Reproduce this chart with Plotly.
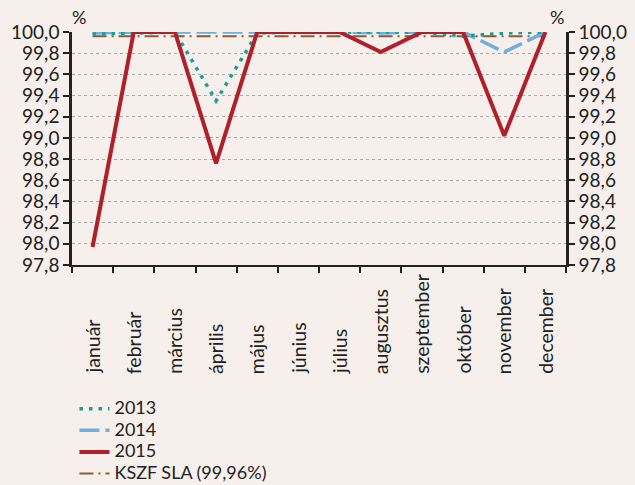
import plotly.graph_objects as go

months = ["január", "február", "március", "április", "május", "június",
          "július", "augusztus", "szeptember", "október", "november", "december"]
y2013 = [99.98, 99.99, 100.0, 99.35, 99.99, 100.0, 100.0, 100.0, 100.0, 99.96, 99.99, 100.0]
y2014 = [99.99, 100.0, 100.0, 100.0, 100.0, 100.0, 100.0, 99.99, 100.0, 100.0, 99.81, 100.0]
y2015 = [97.97, 100.0, 100.0, 98.76, 100.0, 100.0, 100.0, 99.81, 100.0, 100.0, 99.02, 100.0]
sla = [99.96] * 12
names = ["2013", "2014", "2015", "KSZF SLA (99,96%)"]

BG = "#F6EFEC"
FAM = "Lato, Open Sans, sans-serif"


def lg(t):
    return '<span style="font-size:18px">' + t + '</span>'


fig = go.Figure()
fig.add_trace(go.Scatter(x=months, y=sla, name=lg(names[3]), mode="lines", legendrank=4,
                         line=dict(color="#8C5A3C", width=1.8, dash="14px,5px,2px,5px")))
fig.add_trace(go.Scatter(x=months, y=y2014, name=lg(names[1]), mode="lines", legendrank=2,
                         line=dict(color="#70AEDC", width=3.5, dash="20px,6px")))
fig.add_trace(go.Scatter(x=months, y=y2013, name=lg(names[0]), mode="lines", legendrank=1,
                         line=dict(color="#17A190", width=3.5, dash="3.5px,6px")))
fig.add_trace(go.Scatter(x=months, y=y2015, name=lg(names[2]), mode="lines", legendrank=3,
                         line=dict(color="#B0202A", width=4)))
fig.add_trace(go.Scatter(x=months, y=y2015, yaxis="y2", mode="lines",
                         line=dict(width=0), showlegend=False, hoverinfo="skip"))

# month labels, bottom-aligned, read upward
annotations = [
    dict(text=m, x=m, xref="x", y=-0.476, yref="paper", textangle=-90,
         xanchor="center", yanchor="bottom", showarrow=False,
         font=dict(family=FAM, size=19.5, color="#222222"))
    for m in months
]
annotations += [
    dict(text="%", x=0, y=1.0, xref="paper", yref="paper", xanchor="center",
         yanchor="middle", xshift=7, yshift=15, showarrow=False, font=dict(size=18)),
    dict(text="%", x=1, y=1.0, xref="paper", yref="paper", xanchor="center",
         yanchor="middle", xshift=-9, yshift=15, showarrow=False, font=dict(size=18)),
]

fig.update_layout(
    width=635, height=485,
    paper_bgcolor=BG, plot_bgcolor=BG,
    margin=dict(l=72, r=69, t=32, b=220, autoexpand=False),
    separators=", ",
    font=dict(family=FAM, size=17, color="#222222"),
    showlegend=True,
    legend=dict(x=0.005, y=-0.549, xanchor="left", yanchor="top",
                bgcolor="rgba(0,0,0,0)",
                font=dict(family=FAM, size=14.3, color="#222222"),
                tracegroupgap=0),
    xaxis=dict(type="category", showline=True, linecolor="#222", linewidth=2,
               ticks="outside", tickson="boundaries", ticklen=6, tickwidth=2,
               tickcolor="#222", showticklabels=False, showgrid=False,
               automargin=False, range=[-0.5, 11.5]),
    yaxis=dict(range=[97.8, 100.0], dtick=0.2, tick0=97.8, tickformat=".1f",
               showline=True, linecolor="#222", linewidth=2.5, ticks="outside",
               ticklen=6, tickwidth=2, tickcolor="#222", automargin=False,
               showgrid=True, gridcolor="#A8A8A8", griddash="dot", gridwidth=1.2,
               zeroline=False, tickfont=dict(size=19)),
    yaxis2=dict(range=[97.8, 100.0], dtick=0.2, tick0=97.8, tickformat=".1f",
                overlaying="y", side="right", showline=True, linecolor="#222",
                linewidth=2.5, ticks="outside", ticklen=6, tickwidth=2,
                tickcolor="#222", showgrid=False, zeroline=False, automargin=False,
                tickfont=dict(size=19)),
    annotations=annotations,
)
fig.write_html("out.html", config={"displayModeBar": False},
               post_script="document.body.style.margin='0';document.body.style.background='%s';" % BG)
